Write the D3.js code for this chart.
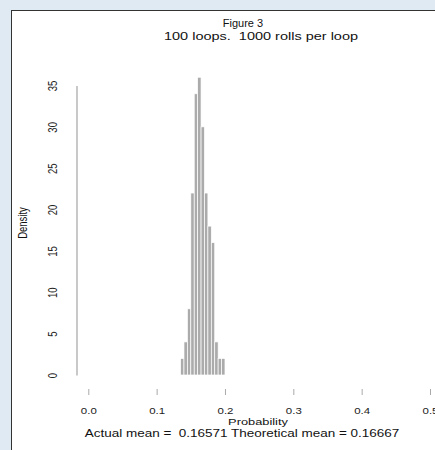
<!DOCTYPE html>
<html>
<head>
<meta charset="utf-8">
<script src="https://cdn.jsdelivr.net/npm/d3@7"></script>
<style>
  body { margin: 0; background: #dfeaf3; }
  svg { display: block; font-family: "Liberation Sans", Arial, sans-serif; }
  text { white-space: pre; }
</style>
</head>
<body>
<div id="chart"></div>
<script>
"use strict";

/******************************
*** DATA ***
******************************/

// histogram bin edges (bin width 0.005)
var binStart = [0.135, 0.140, 0.145, 0.150, 0.155, 0.160, 0.165, 0.170, 0.175, 0.180, 0.185, 0.190, 0.195];
var binWidth = 0.005;

// density of each bin
var density = [2, 4, 8, 22, 34, 36, 30, 22, 18, 16, 4, 2, 2];

// tick labels
var xTicks = [0.0, 0.1, 0.2, 0.3, 0.4, 0.5];
var yTicks = [0, 5, 10, 15, 20, 25, 30, 35];

var titleLines = ["Figure 3", "100 loops.  1000 rolls per loop"];
var xTitle = "Probability";
var yTitle = "Density";
var subTitle = "Actual mean =  0.16571 Theoretical mean = 0.16667";


/**********************
*** BUILD THE CHART ***
**********************/

var width = 435, height = 450;
var stretch = 1.35;   //the original looks stretched sideways, text too

var svg = d3.select("#chart").append("svg")
    .attr("width", width)
    .attr("height", height);

//white panel with dark border on top and left, runs off right/bottom
svg.append("rect")
    .attr("x", 11.5).attr("y", 10.5)
    .attr("width", 440).attr("height", 460)
    .attr("fill", "#fff")
    .attr("stroke", "#333")
    .attr("stroke-width", 1);

var x = d3.scaleLinear().domain([0, 0.5]).range([88.3, 430]);
var y = d3.scaleLinear().domain([0, 35]).range([375, 85.5]);

//bars
svg.append("g").attr("class", "bars")
  .selectAll("rect")
  .data(density)
  .enter()
  .append("rect")
    .attr("x", function(d, i) { return x(binStart[i]); })
    .attr("y", function(d) { return y(d); })
    .attr("width", function(d, i) { return x(binStart[i] + binWidth) - x(binStart[i]); })
    .attr("height", function(d) { return y(0) - y(d); })
    .attr("fill", "#ababab")
    .attr("stroke", "#fff")
    .attr("stroke-width", 0.7);

//x axis - ticks only, no line
var xAxis = d3.axisBottom(x)
    .tickValues(xTicks)
    .tickFormat(d3.format(".1f"))
    .tickSize(6)
    .tickPadding(13);

var gx = svg.append("g")
    .attr("transform", "translate(0,389)")
    .call(xAxis);
gx.select(".domain").remove();
gx.selectAll("line").attr("stroke", "#aaa");
gx.selectAll("text")
    .attr("transform", "scale(" + stretch + ",1)")
    .attr("font-size", 8.5)
    .attr("fill", "#222")
    .attr("font-family", "Liberation Sans, Arial, sans-serif");

//y axis - grey line, rotated labels
var yAxis = d3.axisLeft(y)
    .tickValues(yTicks)
    .tickSize(0)
    .tickPadding(0)
    .tickFormat(d3.format("d"));

var gy = svg.append("g")
    .attr("transform", "translate(76.5,0)")
    .call(yAxis);
gy.select(".domain")
    .attr("stroke", "#bbb")
    .attr("stroke-width", 1.6);
gy.selectAll("text")
    .attr("x", null).attr("dy", null)
    .attr("text-anchor", "middle")
    .attr("transform", "translate(-20,0) scale(" + stretch + ",1) rotate(-90)")
    .attr("font-size", 9.5)
    .attr("fill", "#222")
    .attr("font-family", "Liberation Sans, Arial, sans-serif");

//helper for stretched text
var addText = function(str, cx, cy, size, sx, rot) {
    svg.append("text")
        .attr("transform", "translate(" + cx + "," + cy + ") scale(" + sx + ",1)" + (rot ? " rotate(" + rot + ")" : ""))
        .attr("text-anchor", "middle")
        .attr("font-size", size)
        .attr("fill", "#111")
        .text(str);
}

//titles
addText(titleLines[0], 243, 27, 10, 1.1);
addText(titleLines[1], 261, 40, 10, 1.45);
addText(xTitle, 258, 425, 9.5, stretch);
addText(subTitle, 242, 437, 10, stretch);
addText(yTitle, 26.5, 223, 9.5, stretch, -90);
</script>
</body>
</html>
